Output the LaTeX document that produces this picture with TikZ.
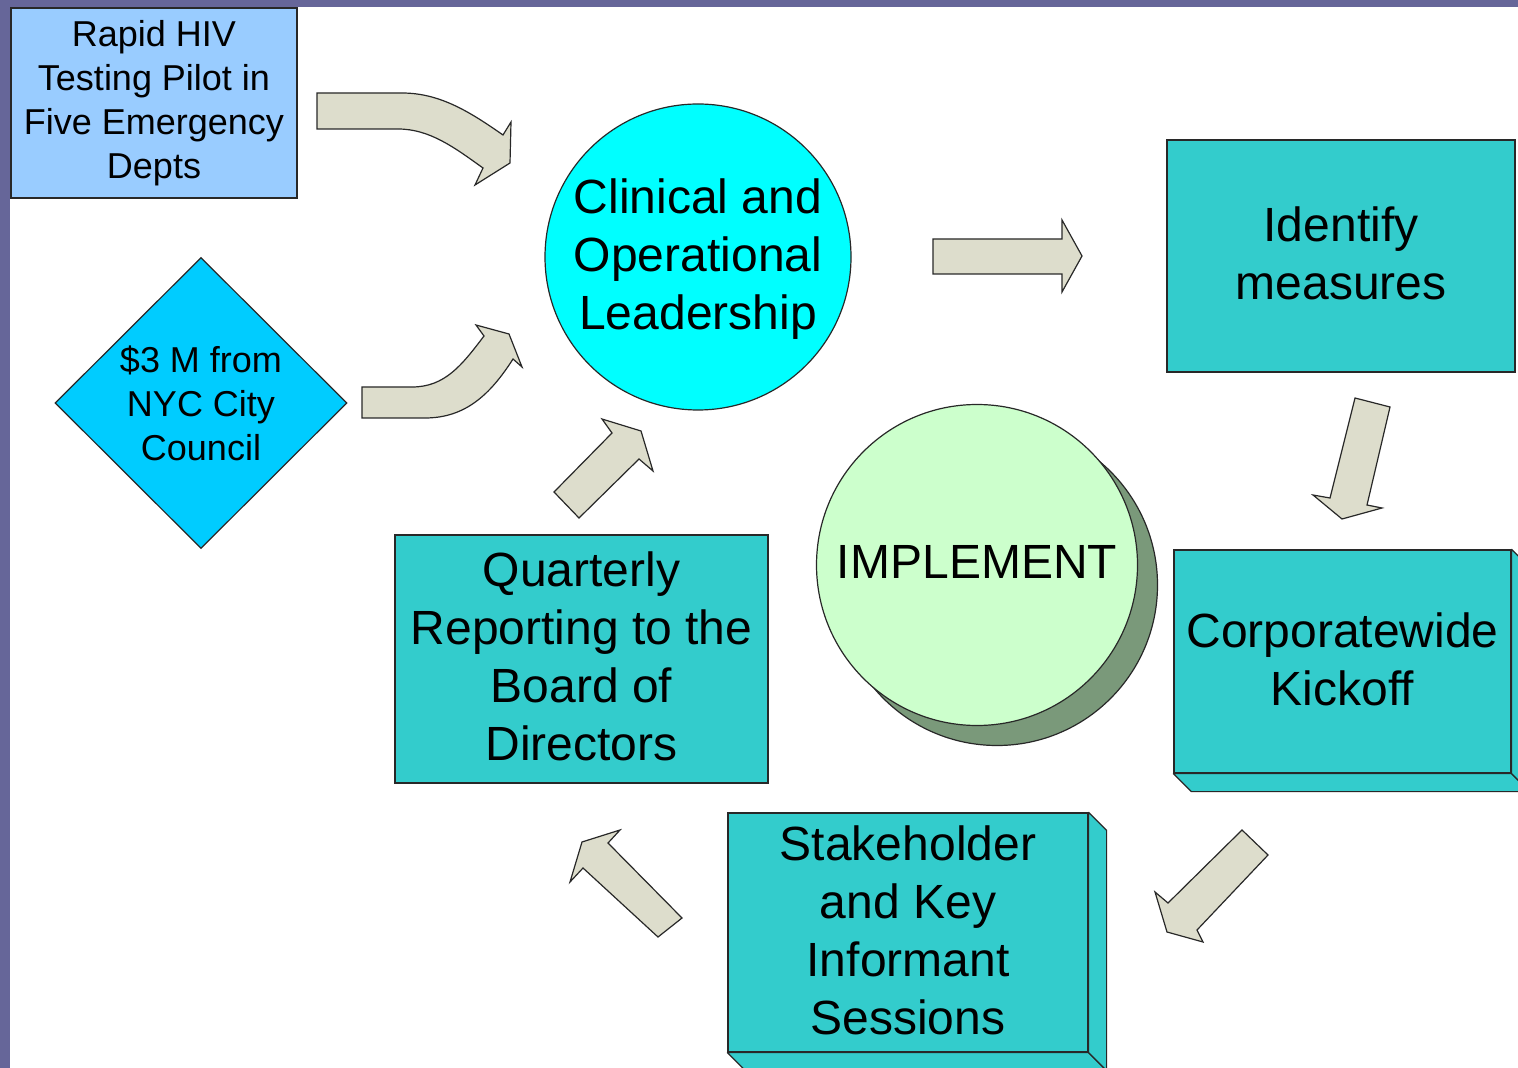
\documentclass[tikz,border=0pt]{standalone}
\usepackage{fontspec}
\setmainfont{Liberation Sans}
\usetikzlibrary{shapes.geometric}
\definecolor{framec}{RGB}{102,102,153}
\definecolor{lightblue}{RGB}{153,204,255}
\definecolor{skyb}{RGB}{0,204,255}
\definecolor{cyanc}{RGB}{0,255,255}
\definecolor{tealb}{RGB}{51,204,204}
\definecolor{mint}{RGB}{204,255,204}
\definecolor{mintdark}{RGB}{122,153,122}
\definecolor{arrowfill}{RGB}{221,221,204}
\definecolor{edgec}{RGB}{40,40,40}
\newcommand\bigtxt{\fontsize{24}{29}\selectfont}
\newcommand\smalltxt{\fontsize{18}{22}\selectfont}
\tikzset{
  box/.style={draw=edgec, line width=0.6pt, fill=tealb, inner sep=0pt, align=center, font=\bigtxt},
  face/.style={draw=edgec, line width=0.6pt, fill=tealb, line join=round},
  blockarrow/.style={draw=edgec, line width=0.6pt, fill=arrowfill, line join=miter},
  roundnode/.style={circle, draw=edgec, line width=0.6pt, inner sep=0pt, align=center, font=\bigtxt},
  label text/.style={font=\bigtxt, align=center, inner sep=0pt}
}
\begin{document}
\begin{tikzpicture}[x=0.5pt,y=-0.5pt]
\clip (0,0) rectangle (1518,1068);
\fill[white] (0,0) rectangle (1518,1068);
\fill[framec] (0,0) rectangle (1518,7);
\fill[framec] (0,0) rectangle (10,1068);

% source nodes
\node[box, fill=lightblue, font=\smalltxt, minimum width=143pt, minimum height=95pt] (rapid) at (154,103) {Rapid HIV\\Testing Pilot in\\Five Emergency\\Depts};
\node[diamond, draw=edgec, line width=0.6pt, fill=skyb, minimum width=146pt, minimum height=145.5pt, inner sep=0pt] (money) at (201,403) {};
\node[font=\smalltxt, align=center, inner sep=0pt] (moneytxt) at (money.center) {\$3 M from\\NYC City\\Council};

% central circle
\node[roundnode, fill=cyanc, minimum size=153pt] (clinical) at (698,257) {};
\node[label text] (clinicaltxt) at (698,259) {Clinical and\\Operational\\Leadership};

% implement
\node[roundnode, fill=mintdark, minimum size=160.5pt] (implshadow) at (997,585) {};
\node[roundnode, fill=mint, minimum size=160.5pt] (implement) at (977,565) {};
\node[label text] (impltxt) at (977,562) {IMPLEMENT};

% boxes
\node[box, minimum width=174pt, minimum height=116pt] (identify) at (1341,256) {};
\node[label text] (identifytxt) at (1341,253) {Identify\\measures};

\node[box, minimum width=168.5pt, minimum height=111.5pt] (corp) at (1342.5,661.5) {};
\node[label text] (corptxt) at (1342.5,659) {Corporatewide\\Kickoff};
\draw[face] (corp.south west) -- ([shift={(18,18)}]corp.south west) -- ([shift={(18,18)}]corp.south east) -- (corp.south east) -- cycle;
\draw[face] (corp.north east) -- ([shift={(18,18)}]corp.north east) -- ([shift={(18,18)}]corp.south east) -- (corp.south east) -- cycle;

\node[box, minimum width=180pt, minimum height=119.5pt] (stake) at (908,932.5) {};
\node[label text] (staketxt) at (908,930) {Stakeholder\\and Key\\Informant\\Sessions};
\draw[face] (stake.south west) -- ([shift={(18,18)}]stake.south west) -- ([shift={(18,18)}]stake.south east) -- (stake.south east) -- cycle;
\draw[face] (stake.north east) -- ([shift={(18,18)}]stake.north east) -- ([shift={(18,18)}]stake.south east) -- (stake.south east) -- cycle;

\node[box, minimum width=186.5pt, minimum height=124pt] (quarterly) at (581.5,659) {};
\node[label text] (quarterlytxt) at (581.5,656) {Quarterly\\Reporting to the\\Board of\\Directors};

% block arrows
% rapid -> clinical
\draw[blockarrow] (317,93) -- (402,93) .. controls (440,93) and (470,112) .. (503,135) -- (511,122) -- (510,163) -- (475,185) -- (483,168) .. controls (455,148) and (430,129) .. (398,129) -- (317,129) -- cycle;
% money -> clinical
\draw[blockarrow] (362,387) -- (412,387) .. controls (445,387) and (462,365) .. (484,336) -- (476,325) -- (509,334) -- (522,367) -- (513,359) .. controls (490,395) and (465,418) .. (425,418) -- (362,418) -- cycle;
% quarterly -> clinical
\draw[blockarrow] (554,492) -- (612,433) -- (602,419) -- (641,431) -- (653,471) -- (639,459) -- (579,518) -- cycle;
% clinical -> identify
\draw[blockarrow] (933,239) -- (1062,239) -- (1062,220) -- (1082,256) -- (1062,292) -- (1062,274) -- (933,274) -- cycle;
% identify -> corp
\draw[blockarrow] (1355,398) -- (1390,407) -- (1367,505) -- (1382,508) -- (1342,519) -- (1313,495) -- (1330,498) -- cycle;
% corp -> stake
\draw[blockarrow] (1242,830) -- (1268,855) -- (1197,930) -- (1203,942) -- (1167,932) -- (1155,892) -- (1168,903) -- cycle;
% stake -> quarterly
\draw[blockarrow] (682,918) -- (608,843) -- (620,830) -- (582,842) -- (570,882) -- (583,868) -- (658,937) -- cycle;
\end{tikzpicture}
\end{document}
